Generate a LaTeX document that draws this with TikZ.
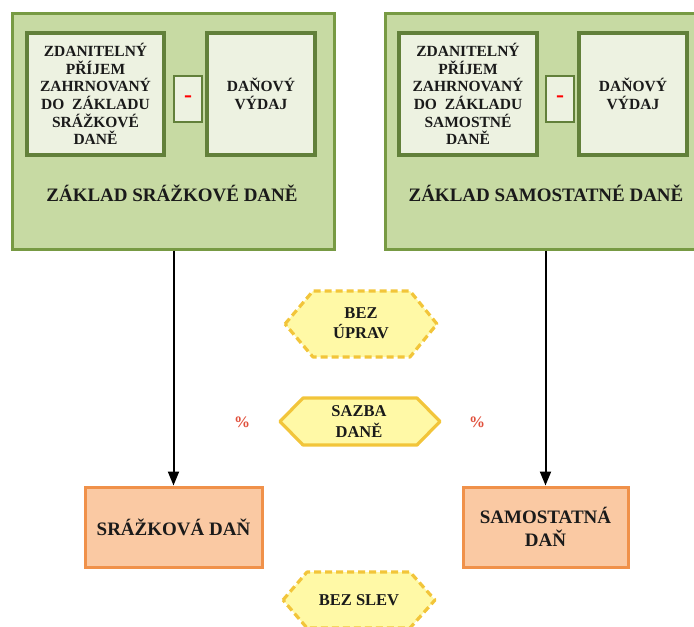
\documentclass[tikz,border=0pt]{standalone}
\usepackage{fontspec}
\setmainfont{Liberation Serif}
\usetikzlibrary{arrows.meta}
\definecolor{outerfill}{HTML}{C7DAA3}
\definecolor{outerdraw}{HTML}{779A43}
\definecolor{innerfill}{HTML}{EDF2E1}
\definecolor{innerdraw}{HTML}{62803A}
\definecolor{orfill}{HTML}{FAC9A3}
\definecolor{ordraw}{HTML}{F0914A}
\definecolor{hexfill}{HTML}{FFF9A6}
\definecolor{hexdraw}{HTML}{F2C53A}
\definecolor{pctred}{HTML}{E0503C}
\definecolor{txt}{HTML}{1A1A1A}
\tikzset{
  outerbox/.style={draw=outerdraw, fill=outerfill, line width=3pt, inner sep=0pt},
  innerbox/.style={draw=innerdraw, fill=innerfill, line width=4pt, inner sep=0pt, align=center,
     font=\fontsize{15.5}{17.7}\selectfont\bfseries, text=txt},
  minusbox/.style={draw=innerdraw, fill=innerfill, line width=2pt, inner sep=0pt,
     minimum width=28pt, minimum height=46pt, font=\fontsize{24}{24}\selectfont\bfseries, text=red},
  titletext/.style={font=\fontsize{19}{22}\selectfont\bfseries, text=txt, inner sep=0pt},
  orbox/.style={draw=ordraw, fill=orfill, line width=3pt, inner sep=0pt, align=center,
     minimum height=80pt, font=\fontsize{19}{23}\selectfont\bfseries, text=txt},
  hextext/.style={align=center, inner sep=0pt, font=\fontsize{16.5}{19.5}\selectfont\bfseries, text=txt},
  hexdash/.style={draw=hexdraw, fill=hexfill, line width=3.2pt, dash pattern=on 7pt off 4pt, line join=round},
  hexsolid/.style={draw=hexdraw, fill=hexfill, line width=3.2pt, line join=round},
  pct/.style={font=\fontsize{16}{16}\selectfont\bfseries, text=pctred, inner sep=0pt},
  arr/.style={draw=black, line width=2pt, -{Triangle[length=14pt,width=11pt]}}
}
\begin{document}
\begin{tikzpicture}[x=1pt,y=-1pt]
\useasboundingbox (0,0) rectangle (694,627);
% outer boxes
\node[outerbox, minimum width=322pt, minimum height=236pt] (zl) at (173,131) {};
\node[outerbox, minimum width=318pt, minimum height=236pt] (zr) at (544,131) {};
% left inner
\node[innerbox, minimum width=137pt, minimum height=122pt] (pl) at (95.5,94)
  {ZDANITELNÝ\\PŘÍJEM\\ZAHRNOVANÝ\\DO\ \ ZÁKLADU\\SRÁŽKOVÉ\\DANĚ};
\node[minusbox] (ml) at (188,99) {-};
\node[innerbox, minimum width=108pt, minimum height=122pt] (vl) at (261,94) {DAŇOVÝ\\VÝDAJ};
\node[titletext] (tl) at (172,193) {ZÁKLAD SRÁŽKOVÉ DANĚ};
% right inner
\node[innerbox, minimum width=138pt, minimum height=122pt] (pr) at (468,94)
  {ZDANITELNÝ\\PŘÍJEM\\ZAHRNOVANÝ\\DO\ \ ZÁKLADU\\SAMOSTNÉ\\DANĚ};
\node[minusbox] (mr) at (560,99) {-};
\node[innerbox, minimum width=108pt, minimum height=122pt] (vr) at (633,94) {DAŇOVÝ\\VÝDAJ};
\node[titletext] (tr) at (546,193) {ZÁKLAD SAMOSTATNÉ DANĚ};
% orange boxes
\node[orbox, minimum width=177pt] (sl) at (173.5,527) {SRÁŽKOVÁ DAŇ};
\node[orbox, minimum width=165pt] (sr) at (545.5,527) {SAMOSTATNÁ\\DAŇ};
% arrows
\draw[arr] (zl.south -| sl.north) -- (sl.north);
\draw[arr] (zr.south -| sr.north) -- (sr.north);
% hexagons
\path[hexdash] (285,324) -- (313,291) -- (410,291) -- (437,324) -- (410,357) -- (313,357) -- cycle;
\node[hextext] (bu) at (361,323) {BEZ\\ÚPRAV};
\path[hexsolid] (280,421.5) -- (303,398) -- (417,398) -- (440,421.5) -- (417,445) -- (303,445) -- cycle;
\node[hextext, font=\fontsize{16.5}{21}\selectfont\bfseries] (sd) at (359,422) {SAZBA\\DANĚ};
\path[hexdash] (283,600) -- (307,572) -- (410,572) -- (435,600) -- (410,628) -- (307,628) -- cycle;
\node[hextext] (bs) at (359,600) {BEZ SLEV};
% percents
\node[pct] (p1) at (242,422) {\%};
\node[pct] (p2) at (477,422) {\%};
\end{tikzpicture}
\end{document}
